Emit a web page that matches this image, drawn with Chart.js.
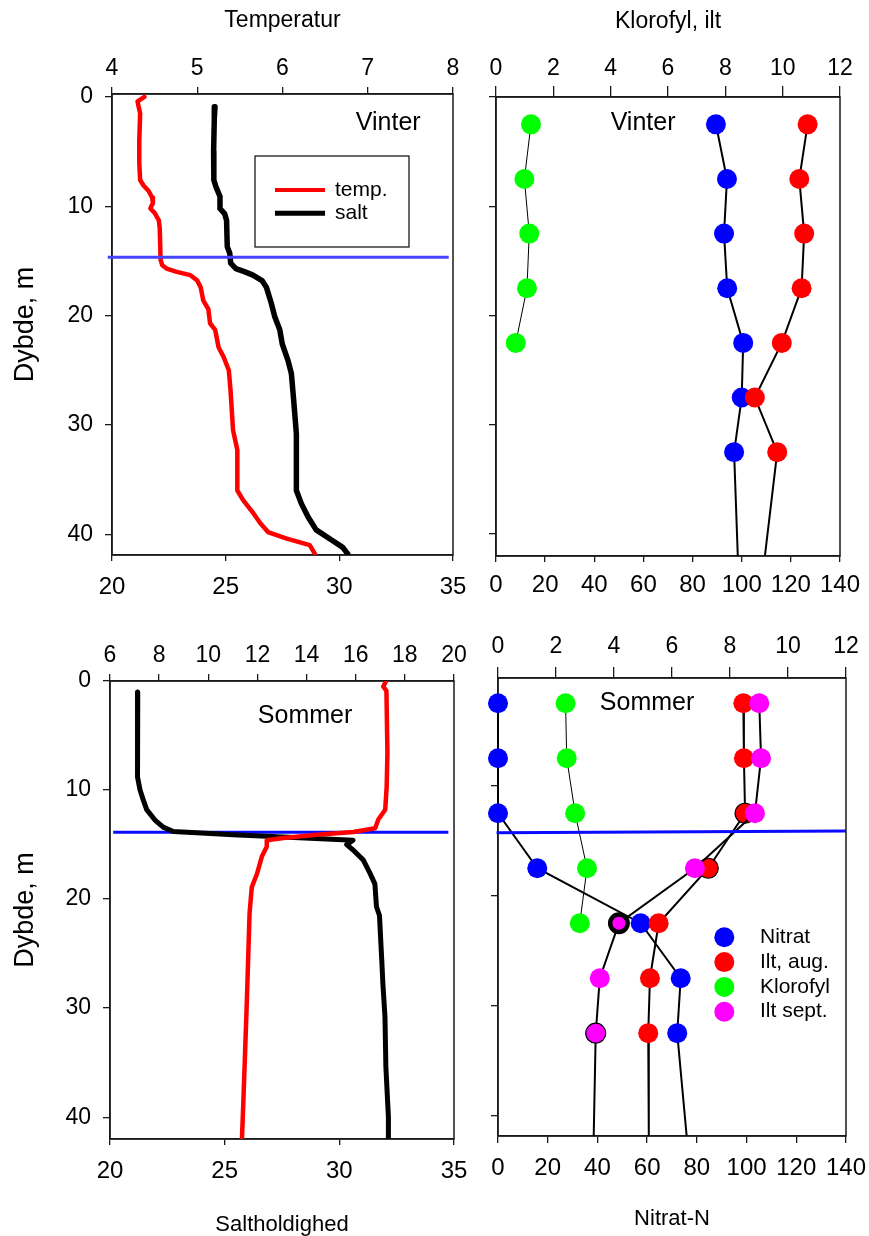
<!DOCTYPE html>
<html lang="da">
<head>
<meta charset="utf-8">
<title>Vinter og sommer profiler</title>
<script src="https://cdn.jsdelivr.net/npm/chart.js@4.4.1/dist/chart.umd.min.js"></script>
<style>
  html, body { margin: 0; padding: 0; background: #fff; }
  body { position: relative; width: 869px; height: 1236px; overflow: hidden; }
  canvas { position: absolute; }
</style>
</head>
<body>
<canvas id="winter-ctd"></canvas>
<canvas id="winter-samples"></canvas>
<canvas id="summer-ctd"></canvas>
<canvas id="summer-samples"></canvas>
<script>
const FONT = '"Liberation Sans", Arial, Helvetica, sans-serif';
const AXIS = '#1a1a1a';

// Vinter - CTD profil (temperatur paa topaksen, salt paa bundaksen)
const winterTempDepth = [0, 0.4, 0.8, 1.5, 4, 6, 7.6, 8.1, 8.6, 9.2, 9.7, 10.2, 10.6, 11.3, 12, 14.9, 15.4, 15.7, 16, 16.3, 16.8, 17.4, 18.6, 19.4, 20.7, 21.3, 22.9, 23.8, 25, 26.8, 30.5, 31.2, 32.3, 36, 36.9, 38.1, 39, 39.8, 40.4, 41, 41.8];
const winterTemp = [4.38, 4.30, 4.31, 4.33, 4.32, 4.32, 4.33, 4.37, 4.43, 4.47, 4.48, 4.45, 4.50, 4.55, 4.56, 4.57, 4.59, 4.64, 4.76, 4.92, 5.00, 5.04, 5.07, 5.13, 5.15, 5.21, 5.25, 5.31, 5.37, 5.39, 5.42, 5.44, 5.47, 5.47, 5.54, 5.66, 5.74, 5.83, 6.05, 6.32, 6.38];
const winterSaltDepth = [0.9, 2, 5, 7.6, 8.2, 9.1, 10.2, 10.7, 11.3, 13.7, 14.3, 15.2, 15.7, 16.0, 16.3, 16.8, 17.4, 18.9, 20.1, 21.3, 22.6, 24.1, 25.3, 27.7, 30.8, 36, 37.2, 38.4, 39.6, 40.6, 41.2, 41.8];
const winterSalt = [24.53, 24.50, 24.47, 24.48, 24.57, 24.75, 24.75, 24.96, 25.04, 25.07, 25.18, 25.22, 25.45, 25.85, 26.2, 26.6, 26.79, 27.01, 27.16, 27.38, 27.49, 27.74, 27.89, 27.99, 28.11, 28.11, 28.33, 28.62, 28.98, 29.71, 30.15, 30.37];
const winterClineTemp = [3.95, 7.95];
const winterClineDepth = [14.67, 14.67];

// Vinter - vandproever (sidste punkt er linjens fortsaettelse mod bunden)
const winterSampleDepth = [2.5, 7.5, 12.5, 17.5, 22.5, 27.5, 32.5, 42];
const winterNitrat = [89.5, 94.0, 92.8, 94.1, 100.6, 100.0, 96.9, 98.4];
const winterIlt = [10.87, 10.58, 10.75, 10.66, 9.97, 9.03, 9.81, 9.38];
const winterKlorofylDepth = [2.5, 7.5, 12.5, 17.5, 22.5];
const winterKlorofyl = [1.22, 0.99, 1.16, 1.08, 0.69];

// Sommer - CTD profil
const summerTempDepth = [0, 0.5, 0.9, 6.6, 9.7, 11.8, 12.7, 13.5, 13.85, 14.1, 14.4, 14.6, 15.2, 16.1, 17.7, 18.9, 21.3, 29.3, 33.9, 38.4, 42];
const summerTemp = [17.24, 17.12, 17.25, 17.29, 17.26, 17.2, 16.92, 16.79, 15.9, 14.42, 13.06, 12.38, 12.38, 12.18, 11.98, 11.77, 11.68, 11.57, 11.5, 11.43, 11.37];
const summerSaltDepth = [1, 8.8, 10, 10.9, 11.8, 12.75, 13.4, 13.8, 14.1, 14.3, 14.6, 15, 15.5, 16.4, 17.6, 18.6, 20.7, 21.5, 25.6, 27.8, 30.8, 35.4, 40, 42];
const summerSalt = [21.21, 21.2, 21.31, 21.45, 21.6, 21.96, 22.32, 22.76, 25.37, 27.55, 30.6, 30.32, 30.6, 31.04, 31.33, 31.55, 31.62, 31.75, 31.85, 31.9, 31.99, 32.03, 32.14, 32.14];
const summerClineTemp = [6.13, 19.77];
const summerClineDepth = [13.88, 13.88];

// Sommer - vandproever
const summerSampleDepth = [2.5, 7.5, 12.5, 17.5, 22.5, 27.5, 32.5, 41.85];
const summerNitrat = [0, 0, 0, 15.8, 57.4, 73.5, 72.1, 75.9];
const summerIltAug = [8.46, 8.48, 8.52, 7.25, 5.54, 5.24, 5.18, 5.2];
const summerIltSept = [9.01, 9.07, 8.86, 6.79, 4.17, 3.51, 3.37, 3.3];
const summerKlorofylDepth = [2.5, 7.5, 12.5, 17.5, 22.5];
const summerKlorofyl = [2.33, 2.37, 2.66, 3.07, 2.82];
const summerClineX = [-0.05, 12];
const summerClineDepth2 = [14.27, 14.12];

const pts = (xs, ys) => xs.map((x, i) => ({ x, y: ys[i] }));
const font = size => ({ family: FONT, size });

function xScale(position, min, max, stepSize, o) {
  return {
    type: 'linear', position, min, max,
    border: { display: true, color: AXIS, width: 1.5 },
    grid: { drawOnChartArea: false, tickLength: o.tickLength, color: AXIS, lineWidth: 1.3 },
    ticks: { stepSize, includeBounds: false, autoSkip: false, maxRotation: 0,
             color: '#000', padding: o.pad, font: font(o.size) },
    title: { display: !!o.title, text: o.title || '', color: '#000',
             font: font(o.titleSize || 22), padding: o.titlePad || 0 },
    afterFit: s => { s.height = o.height; }
  };
}

function depthScale(min, max, o) {
  return {
    type: 'linear', position: 'left', reverse: true, min, max,
    border: { display: true, color: AXIS, width: 1.5 },
    grid: { drawOnChartArea: false, tickLength: 7, color: AXIS, lineWidth: 1.3 },
    ticks: { display: o.labels, stepSize: 10, includeBounds: false,
             color: '#000', padding: 12, font: font(23) },
    title: { display: o.labels, text: 'Dybde, m', color: '#000', font: font(27), padding: 9 },
    afterFit: s => { s.width = o.width; }
  };
}

function profile(label, axis, xs, depths, color, width) {
  return {
    label, xAxisID: axis, yAxisID: 'y', data: pts(xs, depths),
    showLine: true, borderColor: color, borderWidth: width, pointRadius: 0,
    borderCapStyle: 'round', borderJoinStyle: 'round', tension: 0
  };
}

function cline(axis, xs, depths, color) {
  return {
    xAxisID: axis, yAxisID: 'y', data: pts(xs, depths), showLine: true,
    borderColor: color, borderWidth: 3, pointRadius: 0, clip: false, order: 0
  };
}

function samples(label, axis, xs, depths, color, extra) {
  return Object.assign({
    label, xAxisID: axis, yAxisID: 'y', data: pts(xs, depths), showLine: true,
    borderColor: '#000', borderWidth: 2, tension: 0,
    pointRadius: 10, pointBackgroundColor: color, pointBorderColor: '#000', pointBorderWidth: 0,
    clip: { left: 12, top: 12, right: 12, bottom: 0 }
  }, extra);
}

// frame around the plot area
const frame = {
  id: 'frame',
  beforeDatasetsDraw(chart) {
    const { ctx, chartArea: a } = chart;
    ctx.save();
    ctx.strokeStyle = AXIS;
    ctx.lineWidth = 1.5;
    ctx.strokeRect(a.left, a.top, a.right - a.left, a.bottom - a.top);
    ctx.restore();
  }
};

// "Vinter" / "Sommer" placed in data units
const panelLabel = {
  id: 'panelLabel',
  afterDatasetsDraw(chart, args, opts) {
    if (!opts.text) return;
    const { ctx } = chart;
    ctx.save();
    ctx.font = '25px ' + FONT;
    ctx.fillStyle = '#000';
    ctx.textAlign = 'center';
    ctx.textBaseline = 'middle';
    ctx.fillText(opts.text, chart.scales[opts.axis].getPixelForValue(opts.x),
                 chart.scales.y.getPixelForValue(opts.y));
    ctx.restore();
  }
};

// boxed legend with line samples
const lineLegend = {
  id: 'lineLegend',
  afterDatasetsDraw(chart, args, opts) {
    if (!opts.box) return;
    const { ctx, chartArea: a } = chart;
    const [dx, dy, w, h] = opts.box;
    const x0 = a.left + dx, y0 = a.top + dy;
    ctx.save();
    ctx.strokeStyle = AXIS;
    ctx.lineWidth = 1.3;
    ctx.strokeRect(x0, y0, w, h);
    ctx.font = '21px ' + FONT;
    ctx.textBaseline = 'middle';
    ctx.fillStyle = '#000';
    chart.data.datasets.filter(d => d.label).forEach((d, i) => {
      const y = y0 + opts.rows[i];
      ctx.strokeStyle = d.borderColor;
      ctx.lineWidth = d.borderWidth - 0.5;
      ctx.beginPath();
      ctx.moveTo(x0 + opts.line[0], y);
      ctx.lineTo(x0 + opts.line[1], y);
      ctx.stroke();
      ctx.fillText(d.label, x0 + opts.textX, y);
    });
    ctx.restore();
  }
};

// legend with round markers
const dotLegend = {
  id: 'dotLegend',
  afterDatasetsDraw(chart, args, opts) {
    if (!opts.show) return;
    const { ctx, chartArea: a } = chart;
    ctx.save();
    ctx.font = '21px ' + FONT;
    ctx.textBaseline = 'middle';
    chart.data.datasets.filter(d => d.label).forEach((d, i) => {
      const y = a.top + opts.top + i * opts.gap;
      ctx.fillStyle = d.pointBackgroundColor;
      ctx.beginPath();
      ctx.arc(a.left + opts.left, y, 10, 0, Math.PI * 2);
      ctx.fill();
      ctx.fillStyle = '#000';
      ctx.fillText(d.label, a.left + opts.textX, y);
    });
    ctx.restore();
  }
};

function makeChart(id, box, scales, datasets, plugins) {
  const canvas = document.getElementById(id);
  canvas.width = box.w;
  canvas.height = box.h;
  canvas.style.left = box.x + 'px';
  canvas.style.top = box.y + 'px';
  return new Chart(canvas, {
    type: 'scatter',
    data: { datasets },
    options: {
      responsive: false,
      animation: false,
      devicePixelRatio: 1,
      events: [],
      layout: { autoPadding: false, padding: { left: 0, top: 0, right: box.padRight, bottom: 0 } },
      scales,
      plugins: Object.assign({ legend: { display: false }, tooltip: { enabled: false } }, plugins)
    },
    plugins: [frame, panelLabel, lineLegend, dotLegend]
  });
}

// Vinter, CTD
makeChart('winter-ctd', { x: 0, y: 0, w: 490, h: 615, padRight: 37 }, {
  y: depthScale(-0.27, 41.9, { labels: true, width: 112 }),
  xTop: xScale('top', 4, 8, 1, { tickLength: 7, pad: 4.4, size: 23, height: 94,
                                  title: 'Temperatur', titleSize: 23, titlePad: 7.2 }),
  xBot: xScale('bottom', 20, 35, 5, { tickLength: 6, pad: 11.8, size: 24, height: 60 })
}, [
  cline('xTop', winterClineTemp, winterClineDepth, '#4444ff'),
  profile('temp.', 'xTop', winterTemp, winterTempDepth, '#ff0000', 4.5),
  profile('salt', 'xBot', winterSalt, winterSaltDepth, '#000000', 5.5)
], {
  panelLabel: { text: 'Vinter', axis: 'xTop', x: 7.24, y: 2.4 },
  lineLegend: { box: [143, 62, 154, 91], line: [20, 70], rows: [34, 57.3], textX: 80 }
});

// Vinter, vandproever
makeChart('winter-samples', { x: 470, y: 0, w: 430, h: 615, padRight: 60 }, {
  y: depthScale(0, 42, { labels: false, width: 26 }),
  xTop: xScale('top', 0, 12, 2, { tickLength: 11, pad: 3.4, size: 23, height: 97,
                                   title: 'Klorofyl, ilt', titleSize: 23, titlePad: 7.5 }),
  xBot: xScale('bottom', 0, 140, 20, { tickLength: 6, pad: 9.4, size: 24, height: 59 })
}, [
  samples('Nitrat', 'xBot', winterNitrat, winterSampleDepth, '#0000ff',
          { order: 3, pointRadius: [10, 10, 10, 10, 10, 10, 10, 0] }),
  samples('Ilt', 'xTop', winterIlt, winterSampleDepth, '#ff0000',
          { order: 2, pointRadius: [10, 10, 10, 10, 10, 10, 10, 0] }),
  samples('Klorofyl', 'xTop', winterKlorofyl, winterKlorofylDepth, '#00ff00',
          { order: 1, borderWidth: 1 })
], {
  panelLabel: { text: 'Vinter', axis: 'xTop', x: 5.13, y: 2.4 }
});

// Sommer, CTD
makeChart('summer-ctd', { x: 0, y: 615, w: 490, h: 635, padRight: 36 }, {
  y: depthScale(0, 42, { labels: true, width: 110 }),
  xTop: xScale('top', 6, 20, 2, { tickLength: 7, pad: 4.4, size: 23, height: 66 }),
  xBot: xScale('bottom', 20, 35, 5, { tickLength: 6, pad: 11.9, size: 24, height: 111,
                                       title: 'Saltholdighed', titleSize: 22, titlePad: 11.8 })
}, [
  profile('temp.', 'xTop', summerTemp, summerTempDepth, '#ff0000', 4.5),
  profile('salt', 'xBot', summerSalt, summerSaltDepth, '#000000', 5),
  Object.assign(cline('xTop', summerClineTemp, summerClineDepth, '#0a0aff'), { order: 5 })
], {
  panelLabel: { text: 'Sommer', axis: 'xTop', x: 13.94, y: 3.25 }
});

// Sommer, vandproever
makeChart('summer-samples', { x: 470, y: 615, w: 430, h: 635, padRight: 54 }, {
  y: depthScale(0.2, 41.85, { labels: false, width: 28 }),
  xTop: xScale('top', 0, 12, 2, { tickLength: 11, pad: 6.5, size: 23, height: 63 }),
  xBot: xScale('bottom', 0, 140, 20, { tickLength: 7, pad: 10.9, size: 24, height: 114,
                                        title: 'Nitrat-N', titleSize: 22, titlePad: 17.6 })
}, [
  samples('Nitrat', 'xBot', summerNitrat, summerSampleDepth, '#0000ff',
          { order: 4, pointRadius: [10, 10, 10, 10, 10, 10, 10, 0] }),
  samples('Ilt, aug.', 'xTop', summerIltAug, summerSampleDepth, '#ff0000',
          { order: 3, pointRadius: [10, 10, 10, 10, 10, 10, 10, 0],
            pointBorderWidth: [0, 0, 1.2, 1.2, 0, 0, 0, 0] }),
  samples('Klorofyl', 'xTop', summerKlorofyl, summerKlorofylDepth, '#00ff00',
          { order: 2, borderWidth: 1 }),
  samples('Ilt sept.', 'xTop', summerIltSept, summerSampleDepth, '#ff00ff',
          { order: 1, pointRadius: [10, 10, 10, 10, 8.75, 10, 10, 0],
            pointBorderWidth: [0, 0, 0, 0, 4.5, 0, 1.2, 0] }),
  cline('xTop', summerClineX, summerClineDepth2, '#0a0aff')
], {
  panelLabel: { text: 'Sommer', axis: 'xTop', x: 5.14, y: 2.5 },
  dotLegend: { show: true, left: 226.3, top: 259.3, gap: 24.8, textX: 262 }
});
</script>
</body>
</html>
